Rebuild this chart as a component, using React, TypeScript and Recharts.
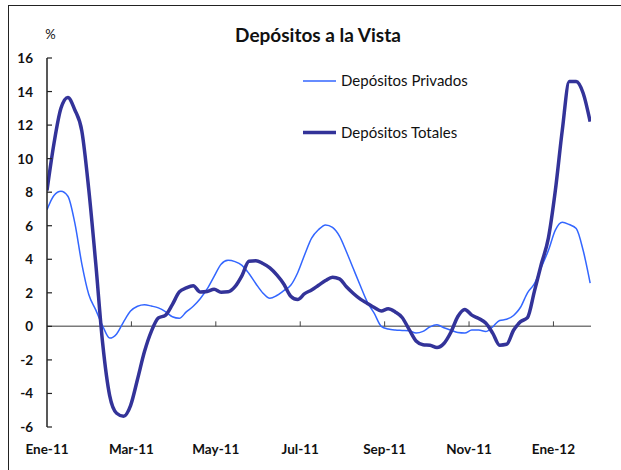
import { LineChart, Line, XAxis, YAxis, ReferenceLine } from 'recharts'

// monthly offsets from Ene-11, roughly every 5 days
const STEP = 0.165

const totales = [
  8.1, 10.9, 13.0, 13.65, 12.9, 11.65, 8.15, 3.75, -1.04, -4.13,
  -5.18, -5.36, -4.72, -3.15, -1.5, -0.28, 0.5, 0.66, 1.3, 2.05,
  2.29, 2.42, 2.05, 2.08, 2.21, 2.04, 2.06, 2.37, 3.03, 3.88,
  3.91, 3.75, 3.49, 3.07, 2.53, 1.8, 1.6, 1.95, 2.17, 2.45,
  2.73, 2.93, 2.83, 2.36, 1.96, 1.62, 1.37, 1.12, 0.92, 1.05,
  0.86, 0.53, -0.18, -0.87, -1.09, -1.12, -1.26, -1.02, -0.35, 0.59,
  1.01, 0.67, 0.47, 0.2, -0.4, -1.12, -1.07, -0.23, 0.28, 0.52,
  2.1, 3.73, 5.26, 8.1, 11.7, 14.6, 14.6, 13.9, 12.2,
]

const privados = [
  6.95, 7.8, 8.05, 7.76, 6.15, 3.73, 1.9, 0.98, 0.02, -0.7,
  -0.45, 0.27, 0.91, 1.2, 1.29, 1.21, 1.1, 0.88, 0.57, 0.48,
  0.86, 1.2, 1.65, 2.23, 2.98, 3.71, 3.94, 3.86, 3.64, 3.15,
  2.54, 1.99, 1.67, 1.84, 2.13, 2.45, 3.2, 4.27, 5.26, 5.77,
  6.05, 5.9, 5.38, 4.45, 3.43, 2.42, 1.45, 0.77, 0.0, -0.16,
  -0.22, -0.24, -0.26, -0.4, -0.3, -0.03, 0.09, -0.08, -0.23, -0.37,
  -0.4, -0.22, -0.22, -0.31, -0.03, 0.35, 0.42, 0.65, 1.14, 2.0,
  2.55, 3.54, 4.52, 5.74, 6.21, 6.07, 5.83, 4.52, 2.58,
]

const monthTicks = [0, 2, 4, 6, 8, 10, 12]
const monthLabels = ['Ene-11', 'Mar-11', 'May-11', 'Jul-11', 'Sep-11', 'Nov-11', 'Ene-12']
const yTicks = [-6, -4, -2, 0, 2, 4, 6, 8, 10, 12, 14, 16]

const LIGHT = '#3366FF'
const DARK = '#333399'
const FONT = 'Lato, "Open Sans", sans-serif'

const data = totales.map((t, i) => ({
  m: +(i * STEP).toFixed(3),
  totales: t,
  privados: privados[i],
}))

const YTick = ({ x, y, payload }: any) => (
  <g>
    <line x1={x} x2={x + 5} y1={y} y2={y} stroke="#222" strokeWidth={1.2} />
    <text x={x - 14} y={y} dy={5} textAnchor="end" fontSize={13.5} fontWeight="bold" fill="#111" fontFamily={FONT}>
      {payload.value}
    </text>
  </g>
)

const XTick = ({ x, y, payload }: any) => (
  <text x={x} y={y + 27} textAnchor="middle" fontSize={13.5} fontWeight="bold" fill="#111" fontFamily={FONT}>
    {monthLabels[monthTicks.indexOf(payload.value)]}
  </text>
)

export default function App() {
  return (
    <div
      style={{
        position: 'fixed',
        left: 8,
        top: 5,
        width: 613,
        height: 465,
        borderLeft: '1px solid #222',
        borderTop: '1px solid #222',
        background: '#fff',
        fontFamily: FONT,
      }}
    >
      <LineChart width={612} height={464} data={data} margin={{ top: 52, right: 30, bottom: 13, left: 0 }}>
        <XAxis
          dataKey="m"
          type="number"
          domain={[0, 12.89]}
          ticks={monthTicks}
          tick={<XTick />}
          axisLine={false}
          tickLine={false}
          tickSize={0}
          tickMargin={0}
          height={30}
          allowDataOverflow
        />
        <YAxis
          domain={[-6, 16]}
          ticks={yTicks}
          tick={<YTick />}
          axisLine={{ stroke: '#222', strokeWidth: 1.5 }}
          tickLine={false}
          tickSize={0}
          tickMargin={0}
          width={38}
          allowDataOverflow
        />
        <ReferenceLine y={0} stroke="#7a7a7a" strokeWidth={1.5} />
        {monthTicks.slice(1).map((m) => (
          <ReferenceLine
            key={m}
            segment={[
              { x: m, y: 0 },
              { x: m, y: 0.3 },
            ]}
            stroke="#444"
            strokeWidth={1}
          />
        ))}
        <Line
          type="monotone"
          dataKey="privados"
          stroke={LIGHT}
          strokeWidth={1.5}
          dot={false}
          isAnimationActive={false}
        />
        <Line
          type="monotone"
          dataKey="totales"
          stroke={DARK}
          strokeWidth={3.5}
          dot={false}
          isAnimationActive={false}
        />
      </LineChart>
      <svg
        width={612}
        height={464}
        style={{ position: 'absolute', left: 0, top: 0, pointerEvents: 'none' }}
      >
        <text x={309} y={36} textAnchor="middle" fontSize={19} fontWeight="bold" fill="#111" fontFamily={FONT}>
          Depósitos a la Vista
        </text>
        <text x={41.5} y={33} textAnchor="middle" fontSize={13} fill="#111" fontFamily={FONT}>
          %
        </text>
        <line x1={294} x2={327} y1={75} y2={75} stroke={LIGHT} strokeWidth={1.5} />
        <text x={332} y={80} fontSize={15} fill="#111" fontFamily={FONT}>
          Depósitos Privados
        </text>
        <line x1={294} x2={327} y1={126.6} y2={126.6} stroke={DARK} strokeWidth={3.5} />
        <text x={332} y={131.5} fontSize={15} fill="#111" fontFamily={FONT}>
          Depósitos Totales
        </text>
      </svg>
    </div>
  )
}
